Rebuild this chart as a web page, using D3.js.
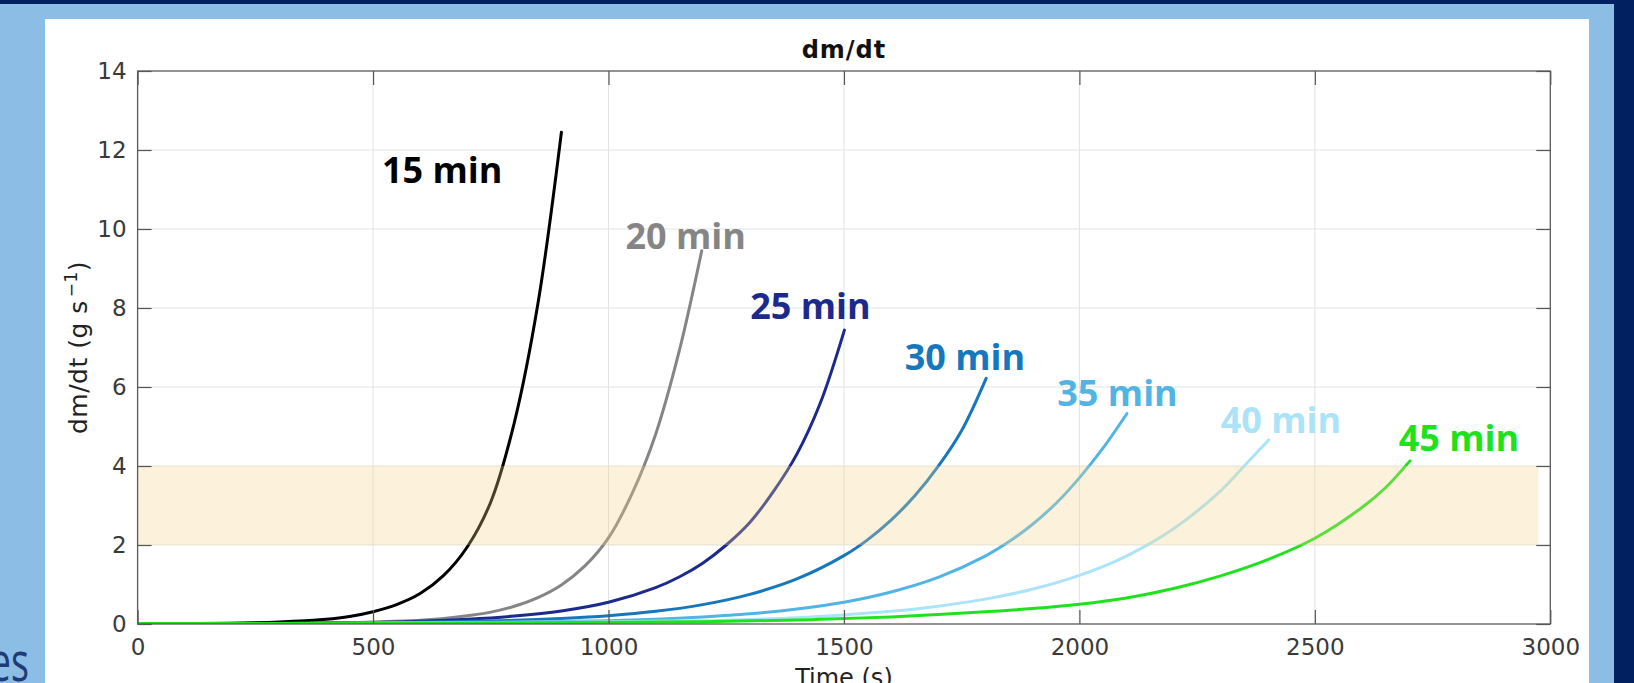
<!DOCTYPE html>
<html>
<head>
<meta charset="utf-8">
<script src="https://cdn.jsdelivr.net/npm/d3@7"></script>
<style>
  html, body { margin: 0; padding: 0; background: #002060; overflow: hidden; }
  svg { display: block; }
</style>
</head>
<body>
<div id="chart"></div>
<script>
// series: time (s) and dm/dt (g/s)
var labels = ["15 min", "20 min", "25 min", "30 min", "35 min", "40 min", "45 min"];
var colors = ["#000000", "#858585", "#1c2a8c", "#1677bd", "#52b4e4", "#abe3f8", "#1ee21e"];

var t15 = [0, 100, 200, 300, 400, 450, 500, 550, 600, 650, 700, 750, 800, 850, 900];
var v15 = [0.01, 0.01, 0.02, 0.05, 0.12, 0.19, 0.31, 0.49, 0.77, 1.23, 1.95, 3.09, 5.1, 8.1, 12.45];
var t20 = [0, 300, 400, 500, 600, 650, 700, 750, 800, 850, 900, 950, 1000, 1050, 1100, 1150, 1198];
var v20 = [0.01, 0.015, 0.02, 0.05, 0.093, 0.14, 0.21, 0.3, 0.45, 0.67, 0.99, 1.47, 2.18, 3.3, 4.8, 6.9, 9.45];
var t25 = [0, 300, 500, 600, 700, 800, 900, 1000, 1100, 1150, 1200, 1250, 1300, 1350, 1400, 1450, 1501];
var v25 = [0.01, 0.02, 0.04, 0.07, 0.12, 0.2, 0.33, 0.55, 0.92, 1.19, 1.54, 2.0, 2.57, 3.35, 4.3, 5.6, 7.44];
var t30 = [0, 300, 500, 800, 900, 1000, 1100, 1200, 1300, 1400, 1500, 1550, 1600, 1650, 1700, 1750, 1802];
var v30 = [0.01, 0.015, 0.03, 0.093, 0.14, 0.21, 0.32, 0.49, 0.75, 1.14, 1.73, 2.13, 2.63, 3.24, 3.99, 4.9, 6.22];
var t35 = [0, 300, 600, 1000, 1100, 1200, 1300, 1400, 1500, 1600, 1700, 1800, 1850, 1900, 1950, 2000, 2050, 2101];
var v35 = [0.01, 0.015, 0.03, 0.083, 0.12, 0.18, 0.26, 0.38, 0.55, 0.81, 1.18, 1.72, 2.08, 2.52, 3.05, 3.7, 4.45, 5.33];
var t40 = [0, 400, 800, 1200, 1300, 1400, 1500, 1600, 1700, 1800, 1900, 2000, 2100, 2200, 2300, 2350, 2402];
var v40 = [0.01, 0.015, 0.04, 0.082, 0.115, 0.16, 0.23, 0.32, 0.45, 0.63, 0.88, 1.23, 1.72, 2.41, 3.37, 4.0, 4.66];
var t45 = [0, 400, 800, 1200, 1400, 1500, 1600, 1700, 1800, 1900, 2000, 2100, 2200, 2300, 2400, 2500, 2600, 2650, 2702];
var v45 = [0.01, 0.015, 0.03, 0.06, 0.1, 0.14, 0.18, 0.24, 0.31, 0.39, 0.5, 0.66, 0.9, 1.22, 1.63, 2.17, 2.95, 3.45, 4.13];

// where each label sits, in data units
var labelT = [519, 1036, 1301, 1629, 1953, 2300, 2678];
var labelV = [11.17, 9.49, 7.73, 6.42, 5.52, 4.83, 4.38];

// shaded target range
var bandLow = 2, bandHigh = 4, bandEnd = 2975;

var xTicks = [0, 500, 1000, 1500, 2000, 2500, 3000];
var yTicks = [0, 2, 4, 6, 8, 10, 12, 14];

var svgWidth = 1634;
var svgHeight = 683;

var chartMargin = { top: 71, right: 83.7, bottom: 59, left: 137.6 };
var chartWidth = svgWidth - chartMargin.left - chartMargin.right;
var chartHeight = svgHeight - chartMargin.top - chartMargin.bottom;

var svg = d3.select("#chart")
  .append("svg")
  .attr("width", svgWidth)
  .attr("height", svgHeight);

// slide background
svg.append("rect").attr("x", 0).attr("y", 0).attr("width", svgWidth).attr("height", svgHeight).attr("fill", "#002060");
svg.append("rect").attr("x", 0).attr("y", 4).attr("width", 1614).attr("height", svgHeight - 4).attr("fill", "#8cbde5");
svg.append("rect").attr("x", 45).attr("y", 19).attr("width", 1544).attr("height", svgHeight - 19).attr("fill", "#ffffff");

// leftover word from the slide, clipped by the chart panel
svg.append("text")
  .attr("transform", "translate(29, 681) scale(0.7, 1)")
  .attr("text-anchor", "end")
  .attr("font-family", "Open Sans, sans-serif")
  .attr("font-size", "54px")
  .attr("fill", "#1f3a78")
  .text("es");

var chartGroup = svg.append("g")
  .attr("transform", `translate(${chartMargin.left}, ${chartMargin.top})`);

var xScale = d3.scaleLinear().domain([0, 3000]).range([0, chartWidth]);
var yScale = d3.scaleLinear().domain([0, 14]).range([chartHeight, 0]);

// grid
chartGroup.append("g")
  .selectAll("line")
  .data(xTicks.slice(1, -1))
  .enter()
  .append("line")
  .attr("x1", d => xScale(d)).attr("x2", d => xScale(d))
  .attr("y1", 0).attr("y2", chartHeight)
  .attr("stroke", "#e3e3e3").attr("stroke-width", 1);

chartGroup.append("g")
  .selectAll("line")
  .data(yTicks.slice(1, -1))
  .enter()
  .append("line")
  .attr("y1", d => yScale(d)).attr("y2", d => yScale(d))
  .attr("x1", 0).attr("x2", chartWidth)
  .attr("stroke", "#e3e3e3").attr("stroke-width", 1);

chartGroup.append("clipPath").attr("id", "plotclip")
  .append("rect").attr("width", chartWidth).attr("height", chartHeight);

var seriesT = [t15, t20, t25, t30, t35, t40, t45];
var seriesV = [v15, v20, v25, v30, v35, v40, v45];
var series = labels.map(function(name, i) {
  return {
    name: name,
    color: colors[i],
    points: seriesT[i].map(function(t, j) { return { t: t, v: seriesV[i][j] }; })
  };
});

var line = d3.line()
  .x(d => xScale(d.t))
  .y(d => yScale(d.v))
  .curve(d3.curveCatmullRom.alpha(0.5));

chartGroup.append("g")
  .attr("clip-path", "url(#plotclip)")
  .selectAll("path")
  .data(series)
  .enter()
  .append("path")
  .attr("d", d => line(d.points))
  .attr("fill", "none")
  .attr("stroke", d => d.color)
  .attr("stroke-width", 3)
  .attr("stroke-linecap", "round");

// band drawn over the lines, semi transparent
chartGroup.append("rect")
  .attr("x", xScale(0))
  .attr("y", yScale(bandHigh))
  .attr("width", xScale(bandEnd) - xScale(0))
  .attr("height", yScale(bandLow) - yScale(bandHigh))
  .attr("fill", "#f5d48c")
  .attr("opacity", 0.3);

// axes, ticks pointing inward
var tickFont = "DejaVu Sans, sans-serif";

var bottomAxis = d3.axisBottom(xScale).tickValues(xTicks).tickSize(-14).tickPadding(15).tickFormat(d3.format("d"));
var leftAxis = d3.axisLeft(yScale).tickValues(yTicks).tickSize(-14).tickPadding(11).tickFormat(d3.format("d"));
var topAxis = d3.axisTop(xScale).tickValues(xTicks).tickSize(-14).tickFormat("");
var rightAxis = d3.axisRight(yScale).tickValues(yTicks).tickSize(-14).tickFormat("");

var gx = chartGroup.append("g").attr("transform", `translate(0, ${chartHeight})`).call(bottomAxis);
var gy = chartGroup.append("g").call(leftAxis);
var gt = chartGroup.append("g").call(topAxis);
var gr = chartGroup.append("g").attr("transform", `translate(${chartWidth}, 0)`).call(rightAxis);

[gx, gy, gt, gr].forEach(function(g) {
  g.select(".domain").remove();
  g.selectAll(".tick line").attr("stroke", "#555").attr("stroke-width", 1.2);
  g.selectAll(".tick text")
    .attr("font-family", tickFont)
    .attr("font-size", "23px")
    .attr("fill", "#3a3a3a");
});

chartGroup.append("rect")
  .attr("width", chartWidth)
  .attr("height", chartHeight)
  .attr("fill", "none")
  .attr("stroke", "#5a5a5a")
  .attr("stroke-width", 1.3);

// curve labels
chartGroup.append("g")
  .selectAll("text")
  .data(series)
  .enter()
  .append("text")
  .attr("x", (d, i) => xScale(labelT[i]))
  .attr("y", (d, i) => yScale(labelV[i]))
  .attr("font-family", "Open Sans, sans-serif")
  .attr("font-weight", "bold")
  .attr("font-size", "36px")
  .attr("fill", d => d.color)
  .text(d => d.name);

// titles
chartGroup.append("text")
  .attr("x", chartWidth / 2)
  .attr("y", -12.7)
  .attr("text-anchor", "middle")
  .attr("font-family", tickFont)
  .attr("font-weight", "bold")
  .attr("font-size", "24px")
  .attr("letter-spacing", "1px")
  .attr("fill", "#111")
  .text("dm/dt");

var yTitle = chartGroup.append("text")
  .attr("transform", `translate(${-51}, ${chartHeight / 2}) rotate(-90)`)
  .attr("text-anchor", "middle")
  .attr("font-family", tickFont)
  .attr("font-size", "25px")
  .attr("letter-spacing", "0.5px")
  .attr("fill", "#222");
yTitle.append("tspan").text("dm/dt (g s");
yTitle.append("tspan").attr("dy", -10).attr("dx", 3).attr("font-size", "17px").text("\u22121");
yTitle.append("tspan").attr("dy", 10).text(")");

chartGroup.append("text")
  .attr("x", chartWidth / 2)
  .attr("y", chartHeight + 62)
  .attr("text-anchor", "middle")
  .attr("font-family", tickFont)
  .attr("font-size", "24px")
  .attr("fill", "#222")
  .text("Time (s)");
</script>
</body>
</html>
